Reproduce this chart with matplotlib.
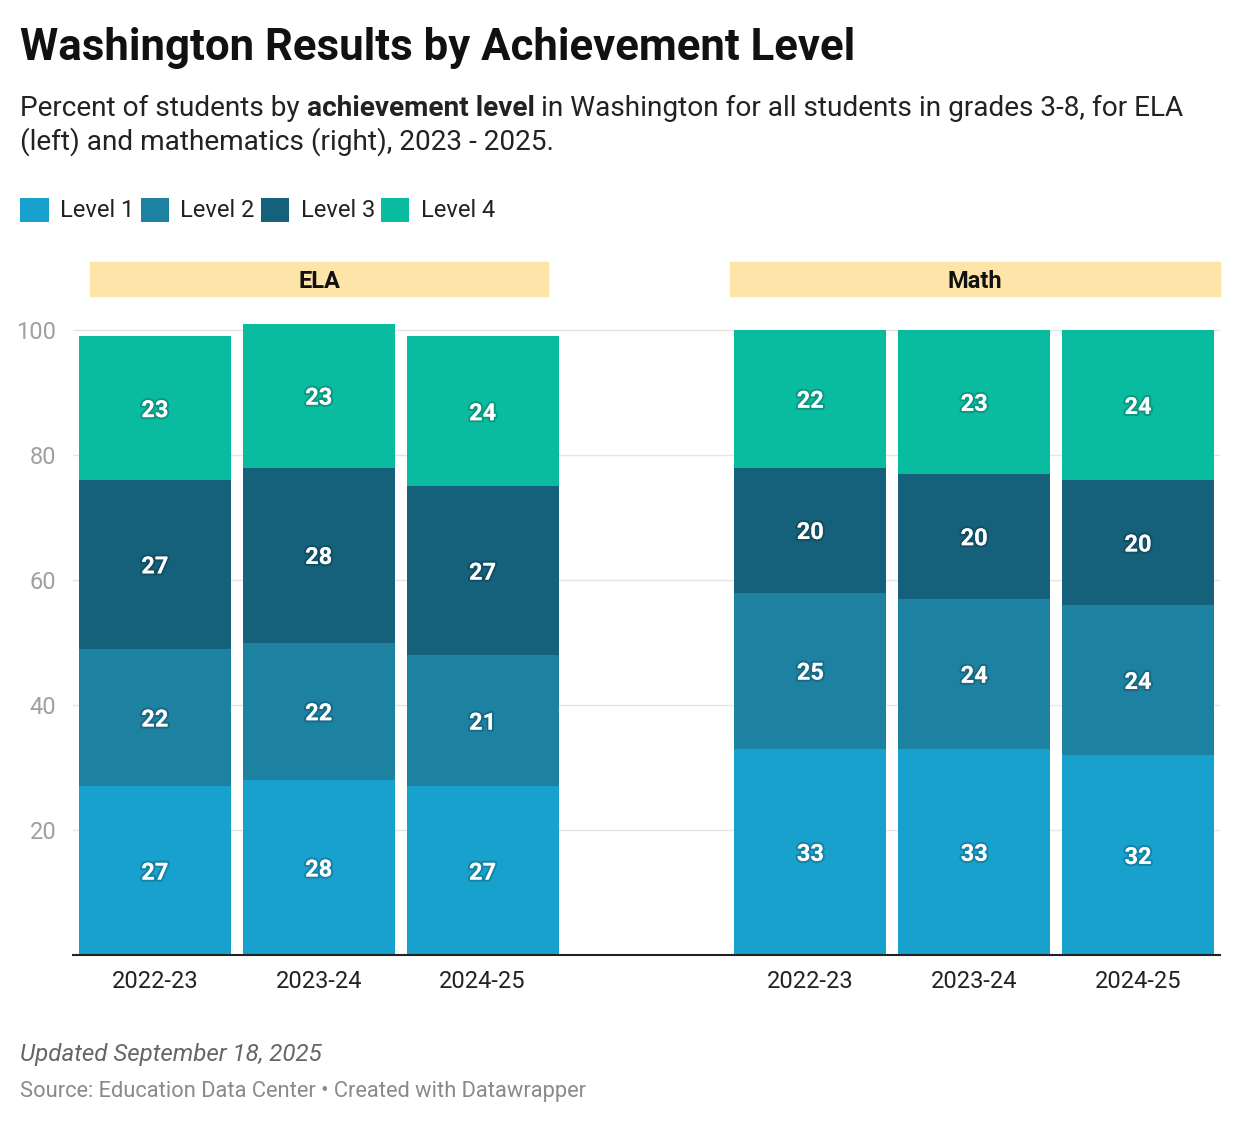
import matplotlib
matplotlib.use('Agg')
import matplotlib.pyplot as plt
import matplotlib.patheffects as pe
from matplotlib.patches import Rectangle, Patch
import numpy as np

plt.rcParams['font.family'] = ['Roboto', 'DejaVu Sans']

# data
years = ['2022-23', '2023-24', '2024-25']
levels = ['Level 1', 'Level 2', 'Level 3', 'Level 4']
colors = ['#18a1cd', '#1d81a2', '#15607a', '#09bb9f']
ela = [[27, 28, 27],   # level 1
       [22, 22, 21],   # level 2
       [27, 28, 27],   # level 3
       [23, 23, 24]]   # level 4
math = [[33, 33, 32],
        [25, 24, 24],
        [20, 20, 20],
        [22, 23, 24]]

W, H = 1240, 1124
fig = plt.figure(figsize=(W / 100, H / 100), dpi=100)

def fx(px):
    return px / W

def fy(py):
    return 1 - py / H

ax = fig.add_axes([fx(73), fy(955), fx(1220) - fx(73), fy(298.75) - fy(955)])

x_ela = np.array([0, 1, 2])
x_math = np.array([4, 5, 6])
width = 0.927

for xs, data in [(x_ela, ela), (x_math, math)]:
    bottom = np.zeros(3)
    for i, vals in enumerate(data):
        vals = np.array(vals)
        ax.bar(xs, vals, width, bottom=bottom, color=colors[i], zorder=2)
        for x, b, v in zip(xs, bottom, vals):
            ax.text(x, b + v / 2, str(v), ha='center', va='center_baseline', color='white',
                    fontsize=17, fontweight='bold', zorder=3,
                    path_effects=[pe.withStroke(linewidth=3, foreground=(0, 0, 0, 0.18))])
        bottom = bottom + vals

ax.set_xlim(-0.5, 6.5)
ax.set_ylim(0, 105)
ax.set_yticks([20, 40, 60, 80, 100])
ax.set_xticks(list(x_ela) + list(x_math))
ax.set_xticklabels(years + years)
ax.tick_params(axis='x', length=0, labelsize=17, labelcolor='#222222', pad=11)
ax.tick_params(axis='y', length=0, labelsize=17, labelcolor='#a0a0a0', pad=12)
ax.grid(axis='y', color='#e4e4e4', linewidth=1, zorder=0)
for s in ['left', 'right', 'top']:
    ax.spines[s].set_visible(False)
ax.spines['bottom'].set_color('#222222')
ax.spines['bottom'].set_linewidth(1.5)
ax.spines['bottom'].set_zorder(4)

# facet headers
for (x0, x1, name) in [(90, 548, 'ELA'), (730, 1220, 'Math')]:
    fig.patches.append(Rectangle((fx(x0), fy(296)), fx(x1) - fx(x0), fy(262) - fy(296),
                                 transform=fig.transFigure, color='#fee4a9', zorder=0))
    fig.text(fx((x0 + x1) / 2), fy(279), name, ha='center', va='center_baseline',
             fontsize=17, fontweight='bold', color='#111111')

# title and subtitle
fig.text(fx(20), fy(60), 'Washington Results by Achievement Level', fontsize=31.5,
         fontweight='bold', color='#111111', va='baseline')

renderer = fig.canvas.get_renderer()
parts = [('Percent of students by ', 'normal'), ('achievement level', 'bold'),
         (' in Washington for all students in grades 3-8, for ELA', 'normal')]
xpos = 20
for txt, wt in parts:
    t = fig.text(fx(xpos), fy(116.5), txt, fontsize=20.15, fontweight=wt,
                 color='#222222', va='baseline')
    bb = t.get_window_extent(renderer=renderer)
    xpos += bb.width
fig.text(fx(20), fy(149.5), '(left) and mathematics (right), 2023 - 2025.', fontsize=20.15,
         color='#222222', va='baseline')

# legend
handles = [Patch(facecolor=c, edgecolor='none') for c in colors]
fig.legend(handles, levels, loc='center left', bbox_to_anchor=(fx(11), fy(210)),
           ncol=4, frameon=False, fontsize=17, handlelength=1.19, handleheight=1.19,
           handletextpad=0.5, columnspacing=0.25, borderaxespad=0, labelcolor='#222222')

# footer
fig.text(fx(20), fy(1061), 'Updated September 18, 2025', fontsize=17.4, style='italic',
         color='#666666', va='baseline')
fig.text(fx(20), fy(1097), 'Source: Education Data Center \u2022 Created with Datawrapper',
         fontsize=15.75, color='#8a8a8a', va='baseline')

fig.savefig('out.png', dpi=100)
